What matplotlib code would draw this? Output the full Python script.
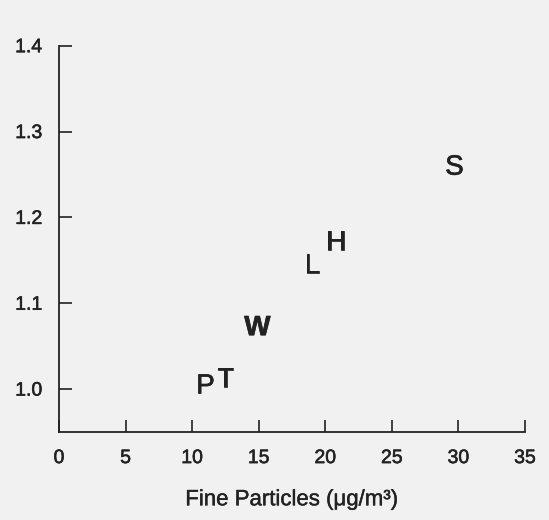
import matplotlib
matplotlib.use("Agg")
import matplotlib.pyplot as plt
import matplotlib.patheffects as pe

# site letters plotted at (fine particles, relative risk)
labels = ["P", "T", "W", "L", "H", "S"]
fine_particles = [11.0, 12.5, 14.9, 19.0, 20.8, 29.7]
risk_ratio = [1.003, 1.011, 1.071, 1.143, 1.170, 1.258]

x_ticks = [0, 5, 10, 15, 20, 25, 30, 35]
y_ticks = [1.0, 1.1, 1.2, 1.3, 1.4]
y_tick_labels = ["1.0", "1.1", "1.2", "1.3", "1.4"]

plt.rcParams["font.family"] = ["Liberation Sans", "DejaVu Sans"]
ink = "#222222"
bg = "#f1f1f1"

fig = plt.figure(figsize=(5.49, 5.20), dpi=100, facecolor=bg)
ax = fig.add_axes([0.1075, 0.1692, 0.8488, 0.7429])
ax.set_facecolor(bg)

for lab, xv, yv in zip(labels, fine_particles, risk_ratio):
    ax.text(xv, yv, lab, ha="center", va="center", fontsize=20, color=ink,
            fontweight="bold" if lab == "W" else "normal",
            path_effects=[pe.withStroke(linewidth=0.5, foreground=ink)])

ax.set_xlim(0, 35)
ax.set_ylim(0.95, 1.4)
ax.set_xticks(x_ticks)
ax.set_yticks(y_ticks)
ax.set_yticklabels(y_tick_labels)

for side in ["top", "right"]:
    ax.spines[side].set_visible(False)
for side in ["left", "bottom"]:
    ax.spines[side].set_color(ink)
    ax.spines[side].set_linewidth(1.3)

ax.tick_params(axis="x", direction="in", length=9, width=1.2, color=ink,
               labelsize=14, labelcolor=ink, pad=13)
ax.tick_params(axis="y", direction="in", length=9, width=1.2, color=ink,
               labelsize=14, labelcolor=ink, pad=12)
for t in ax.get_xticklabels() + ax.get_yticklabels():
    t.set_path_effects([pe.withStroke(linewidth=0.4, foreground=ink)])

ax.set_xlabel("Fine Particles (μg/m³)", fontsize=16, color=ink, labelpad=16,
              path_effects=[pe.withStroke(linewidth=0.3, foreground=ink)])

fig.savefig("out.png", dpi=100, facecolor=bg)
